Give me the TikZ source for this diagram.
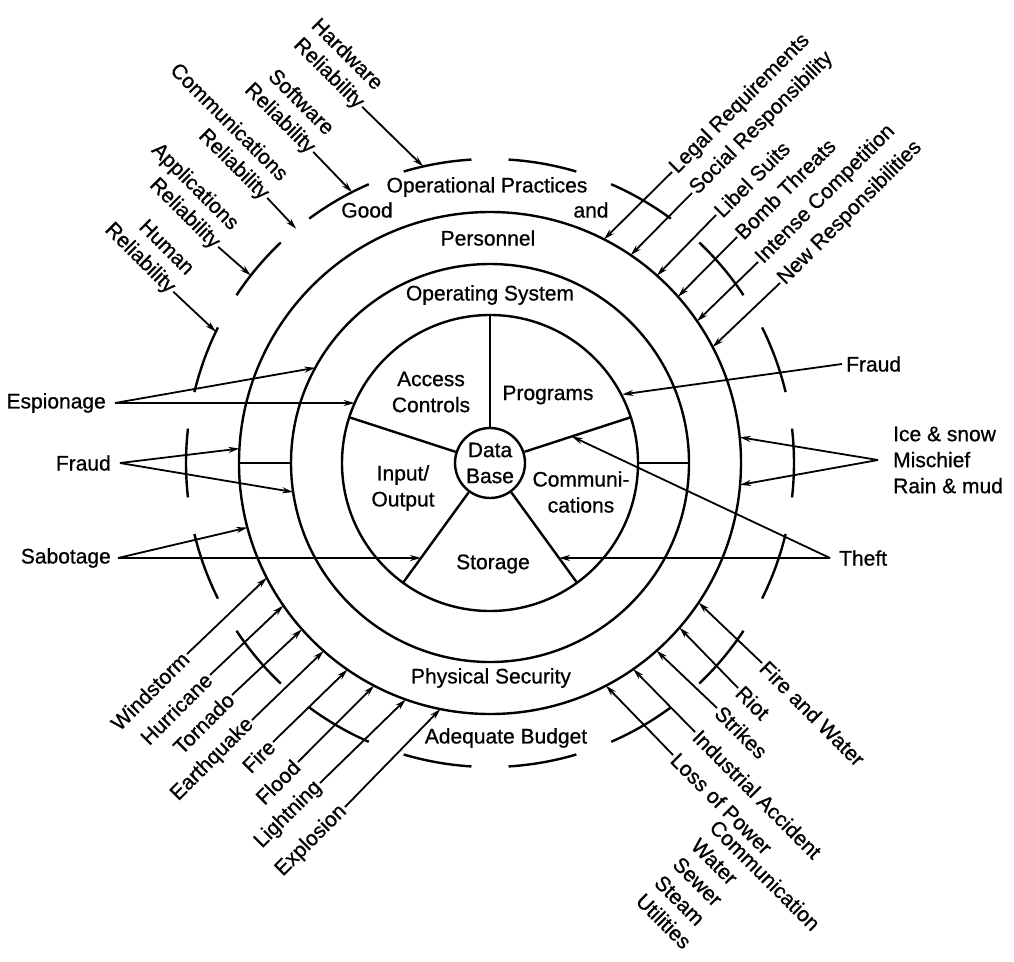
\documentclass[tikz,border=0pt]{standalone}
\usepackage{fontspec}
\setmainfont{Liberation Sans}[FakeBold=0.8]
\usetikzlibrary{arrows.meta,calc}
\begin{document}
\begin{tikzpicture}[x=1pt,y=1pt,
  every node/.style={font=\fontsize{21}{26}\selectfont, inner sep=2pt},
  ring/.style={line width=2.4pt},
  arr/.style={line width=1.8pt, -{Stealth[length=11pt,width=6pt]}},
  conn/.style={line width=1.8pt},
  tl/.style={rotate=-45, align=right, anchor=east},
  tr/.style={rotate=45, anchor=west},
  bl/.style={rotate=45, anchor=east},
  br/.style={rotate=-45, anchor=west},
]
\useasboundingbox (0,0) rectangle (1014,-961);
\coordinate (C) at (490,-463);

% rings
\node[circle, draw, ring, minimum size=70pt, inner sep=0pt, align=center] (db) at (C) {Data\\Base};
\draw[ring] (C) circle[radius=148];
\draw[ring] (C) circle[radius=199];
\draw[ring] (C) circle[radius=251];
\foreach \a in {0,20,...,340}
  \draw[ring] ($(C)+(\a-6.5:304)$) arc[start angle=\a-6.5, end angle=\a+6.5, radius=304];

% spokes
\foreach \a in {18,90,162,234,306}
  \draw[ring] (db.\a) -- ($(C)+(\a:148)$);

% radial connectors
\draw[conn] ($(C)+(180:199)$) -- ($(C)+(180:251)$);
\draw[conn] ($(C)+(0:148)$) -- ($(C)+(0:199)$);

% inner labels
\node (op) at (487,-187) {Operational Practices};
\node (good) at (367,-210) {Good};
\node (and) at (591,-210) {and};
\node (pers) at (488,-238) {Personnel};
\node (os) at (490,-295) {Operating System};
\node[align=center] (ac) at (431,-392) {Access\\Controls};
\node (prog) at (548,-395) {Programs};
\node[align=center] (io) at (403,-488) {Input/\\Output};
\node[align=center] (comm) at (581,-492) {Communi-\\cations};
\node (stor) at (493,-564) {Storage};
\node (phys) at (491,-678) {Physical Security};
\node (bud) at (506,-738) {Adequate Budget};

% top-left group
\node[tl] (hw) at (371,-98) {Hardware\\Reliability};
\draw[arr] ($(hw.east)!0.5!(hw.south east)$) -- ($(C)+(102.7:304)$);
\node[tl] (sw) at (322,-143) {Software\\Reliability};
\draw[arr] ($(sw.east)!0.5!(sw.south east)$) -- ($(C)+(117:304)$);
\node[tl] (cr) at (276,-189) {Communications\\Reliability};
\draw[arr] ($(cr.east)!0.5!(cr.south east)$) -- ($(C)+(129.6:304)$);
\node[tl] (ar) at (227,-238) {Applications\\Reliability};
\draw[arr] ($(ar.east)!0.5!(ar.south east)$) -- ($(C)+(141.9:304)$);
\node[tl] (hr) at (182,-283) {Human\\Reliability};
\draw[arr] ($(hr.east)!0.5!(hr.south east)$) -- ($(C)+(154.4:304)$);

% top-right group
\node[tr] (legal) at (672,-172) {Legal Requirements};
\draw[arr] (legal.west) -- ($(C)+(63:251)$);
\node[tr] (soc) at (692,-193) {Social Responsibility};
\draw[arr] (soc.west) -- ($(C)+(55.9:251)$);
\node[tr] (lib) at (716,-215) {Libel Suits};
\draw[arr] (lib.west) -- ($(C)+(48.3:251)$);
\node[tr] (bomb) at (737,-237) {Bomb Threats};
\draw[arr] (bomb.west) -- ($(C)+(41.5:251)$);
\node[tr] (ic) at (758,-262) {Intense Competition};
\draw[arr] (ic.west) -- ($(C)+(34.4:251)$);
\node[tr] (nr) at (780,-283) {New Responsibilities};
\draw[arr] (nr.west) -- ($(C)+(27.5:251)$);

% right side
\node[anchor=west, inner xsep=4pt] (fraudr) at (842,-364) {Fraud};
\draw[arr] (fraudr.west) -- ($(C)+(27.4:149)$);
\node[anchor=west, align=left, inner xsep=15pt] (ice) at (878,-460) {Ice \& snow\\Mischief\\Rain \& mud};
\draw[arr] (ice.west) -- ($(C)+(5.9:251)$);
\draw[arr] (ice.west) -- ($(C)+(-5:251)$);
\node[anchor=west, inner xsep=9pt] (theft) at (830,-558) {Theft};
\draw[arr] (theft.west) -- ($(C)+(18:86)$);
\draw[arr] (theft.west) -- ($(C)+(-54:117.4)$);

% left side
\node[anchor=east, inner xsep=9pt] (esp) at (115,-403) {Espionage};
\draw[arr] (esp.east) -- ($(C)+(151.4:199)$);
\draw[arr] (esp.east) -- ($(C)+(156.1:148)$);
\node[anchor=east, inner xsep=9pt] (fraudl) at (120,-463) {Fraud};
\draw[arr] (fraudl.east) -- ($(C)+(176.7:251)$);
\draw[arr] (fraudl.east) -- ($(C)+(188.4:199)$);
\node[anchor=east, inner xsep=7pt] (sab) at (118,-558) {Sabotage};
\draw[arr] (sab.east) -- ($(C)+(194.9:251)$);
\draw[arr] (sab.east) -- ($(C)+(234:117.4)$);

% bottom-left group
\node[bl] (wind) at (187,-654) {Windstorm};
\draw[arr] (wind.east) -- ($(C)+(207.2:251)$);
\node[bl] (hur) at (210,-675) {Hurricane};
\draw[arr] (hur.east) -- ($(C)+(214.6:251)$);
\node[bl] (tor) at (232,-695) {Tornado};
\draw[arr] (tor.east) -- ($(C)+(221.5:251)$);
\node[bl] (eq) at (252,-720) {Earthquake};
\draw[arr] (eq.east) -- ($(C)+(228.5:251)$);
\node[bl] (fire) at (273,-742) {Fire};
\draw[arr] (fire.east) -- ($(C)+(235.4:251)$);
\node[bl] (flood) at (298,-762) {Flood};
\draw[arr] (flood.east) -- ($(C)+(242.5:251)$);
\node[bl] (light) at (320,-783) {Lightning};
\draw[arr] (light.east) -- ($(C)+(250.4:251)$);
\node[bl] (expl) at (345,-807) {Explosion};
\draw[arr] (expl.east) -- ($(C)+(258.6:251)$);

% bottom-right group
\node[br] (fw) at (762,-663) {Fire and Water};
\draw[arr] (fw.west) -- ($(C)+(-33.8:251)$);
\node[br] (riot) at (738,-688) {Riot};
\draw[arr] (riot.west) -- ($(C)+(-41:251)$);
\node[br] (strk) at (717,-708) {Strikes};
\draw[arr] (strk.west) -- ($(C)+(-48.4:251)$);
\node[br] (ind) at (695,-732) {Industrial Accident};
\draw[arr] (ind.west) -- ($(C)+(-55.2:251)$);
\node[br] (lp) at (673,-755) {Loss of Power};
\draw[arr] (lp.west) -- ($(C)+(-62.5:251)$);
\node[rotate=-45, anchor=north west, align=left] (util) at ([shift={(-45:75)}]lp.south west) {Communication\\Water\\Sewer\\Steam\\Utilities};
\end{tikzpicture}
\end{document}
